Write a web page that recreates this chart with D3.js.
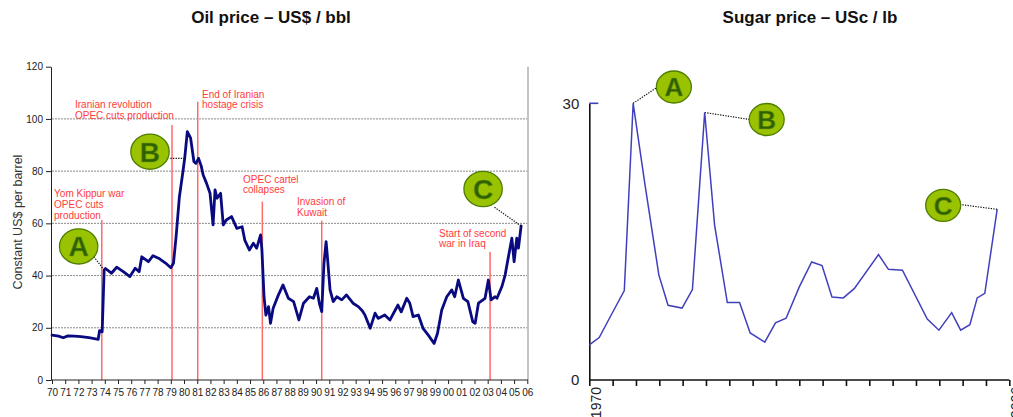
<!DOCTYPE html>
<html>
<head>
<meta charset="utf-8">
<script src="https://cdn.jsdelivr.net/npm/d3@7"></script>
<style>
  body { margin: 0; background: #fff; }
  svg { display: block; font-family: "Liberation Sans", Arial, sans-serif; }
</style>
</head>
<body>
<svg id="chart" width="1013" height="417"></svg>
<script>
// ---- Oil price, constant US$ per barrel (monthly-ish readings) ----
const oilYears = [
  1970.0, 1970.5, 1970.85, 1971.2, 1971.7, 1972.2, 1972.8, 1973.5, 1973.6, 1973.8,
  1973.95, 1974.05, 1974.5, 1974.9, 1975.4, 1975.9, 1976.3, 1976.6, 1976.8, 1977.3,
  1977.65, 1978.15, 1978.6, 1979.0, 1979.2, 1979.4, 1979.65, 1979.9, 1980.05, 1980.25,
  1980.5, 1980.75, 1980.9, 1981.1, 1981.3, 1981.45, 1981.7, 1981.97, 1982.2, 1982.35,
  1982.5, 1982.77, 1982.97, 1983.2, 1983.6, 1984.0, 1984.4, 1984.6, 1984.95, 1985.25,
  1985.5, 1985.8, 1985.9, 1986.06, 1986.2, 1986.4, 1986.55, 1986.75, 1987.15, 1987.5,
  1987.9, 1988.3, 1988.7, 1989.05, 1989.5, 1989.8, 1990.05, 1990.25, 1990.43, 1990.6,
  1990.76, 1990.86, 1991.06, 1991.3, 1991.57, 1991.95, 1992.3, 1992.8, 1993.2, 1993.5,
  1993.7, 1994.1, 1994.47, 1994.7, 1995.2, 1995.6, 1996.0, 1996.2, 1996.45, 1996.87,
  1997.1, 1997.35, 1997.75, 1998.1, 1998.5, 1998.94, 1999.2, 1999.52, 1999.9, 2000.28,
  2000.5, 2000.78, 2001.16, 2001.5, 2001.87, 2002.05, 2002.3, 2002.8, 2003.05, 2003.26,
  2003.56, 2003.7, 2004.07, 2004.32, 2004.57, 2004.83, 2005.0, 2005.2, 2005.33, 2005.53
];
const oilPrices = [
  17.2, 16.8, 16.2, 16.9, 16.8, 16.6, 16.2, 15.6, 18.9, 18.5,
  42.1, 42.7, 40.9, 43.2, 41.5, 39.6, 42.8, 41.5, 47.2, 45.3,
  47.6, 46.4, 44.8, 43.0, 44.7, 54.9, 70.2, 79.2, 84.9, 95.1,
  92.6, 83.6, 83.0, 84.9, 82.0, 78.5, 75.4, 71.5, 59.4, 72.8,
  69.6, 71.5, 59.4, 61.3, 62.6, 58.1, 58.7, 53.6, 49.8, 52.4,
  50.5, 55.6, 49.8, 31.9, 24.9, 28.1, 21.7, 27.5, 32.6, 36.4,
  31.3, 30.0, 23.0, 29.4, 31.9, 31.3, 35.1, 29.4, 26.2, 44.7,
  53.0, 47.2, 34.5, 30.0, 31.9, 30.7, 32.6, 29.4, 28.1, 26.5,
  24.9, 19.8, 25.6, 23.6, 24.9, 23.0, 26.8, 28.7, 26.1, 31.3,
  29.4, 24.3, 24.9, 19.8, 17.2, 14.0, 17.9, 26.8, 31.9, 34.5,
  31.9, 38.3, 31.3, 30.0, 22.3, 21.7, 29.4, 31.3, 38.3, 30.7,
  31.9, 31.3, 35.7, 40.2, 47.2, 54.3, 45.3, 54.3, 50.5, 59.0
];
const oilTickYears = d3.range(1970, 2007);
const oilTickValues = [0, 20, 40, 60, 80, 100, 120];

// Events marked on the oil chart
const eventYears = [1973.77, 1979.09, 1981.04, 1985.93, 1990.43, 2003.18];
const eventLabels = [
  ["Yom Kippur war", "OPEC cuts", "production"],
  ["Iranian revolution", "OPEC cuts production"],
  ["End of Iranian", "hostage crisis"],
  ["OPEC cartel", "collapses"],
  ["Invasion of", "Kuwait"],
  ["Start of second", "war in Iraq"]
];

// ---- Sugar price, US cents per lb ----
const sugarYears = [
  1970.0, 1970.85, 1971.9, 1973.0, 1973.76, 1974.76, 1975.96, 1976.75, 1977.95, 1978.84,
  1979.89, 1980.74, 1981.83, 1982.88, 1983.79, 1985.04, 1985.96, 1986.87, 1988.0, 1989.06,
  1989.95, 1990.8, 1991.77, 1992.71, 1994.79, 1995.64, 1996.84, 1998.97, 1999.97, 2001.06,
  2001.83, 2002.62, 2003.25, 2003.9, 2004.96
];
const sugarPrices = [
  3.8, 4.6, 7.1, 9.7, 30.0, 21.3, 11.4, 8.1, 7.8, 9.8,
  29.0, 16.8, 8.4, 8.4, 5.1, 4.1, 6.2, 6.7, 10.1, 12.8,
  12.4, 9.0, 8.9, 9.9, 13.6, 12.0, 11.9, 6.6, 5.4, 7.3,
  5.4, 6.0, 8.9, 9.4, 18.5
];
const sugarTickYears = d3.range(1970, 2007, 2);
const sugarTickValues = [0, 30];

// Lettered markers: index of the data point each one points at
const markerLetters = ["A", "B", "C"];
const oilMarkerAt = [10, 28, 119];
const sugarMarkerAt = [4, 10, 34];

const svg = d3.select("#chart");
const RED_TEXT = "#ff3b3b", RED_LINE = "#ff6a6a";
const GREEN_FILL = "#99c300", GREEN_STROKE = "#4f7d00", GREEN_TEXT = "#2f6000";

// ---------------- Titles ----------------
svg.append("text").attr("x", 271).attr("y", 23).attr("text-anchor", "middle")
  .attr("font-size", 17).attr("font-weight", "bold").attr("fill", "#111")
  .text("Oil price \u2013 US$ / bbl");
svg.append("text").attr("x", 810).attr("y", 23).attr("text-anchor", "middle")
  .attr("font-size", 17).attr("font-weight", "bold").attr("fill", "#111")
  .text("Sugar price \u2013 USc / lb");

// ---------------- Oil chart ----------------
const ox = d3.scaleLinear().domain([1970, 2006]).range([52, 527.3]);
const oy = d3.scaleLinear().domain([0, 120]).range([380, 66.7]);
const oil = svg.append("g");

// dotted gridlines
oil.append("g").selectAll("line")
  .data(oilTickValues.filter(v => v > 0 && v < 120))
  .join("line")
  .attr("x1", ox(1970)).attr("x2", 528)
  .attr("y1", d => oy(d)).attr("y2", d => oy(d))
  .attr("stroke", "#8a8a8a").attr("stroke-width", 1).attr("stroke-dasharray", "2,1");

// right frame
oil.append("line").attr("x1", 528).attr("x2", 528)
  .attr("y1", oy(120)).attr("y2", oy(0))
  .attr("stroke", "#c4c4c4").attr("stroke-width", 2);

// event lines and labels
const eventLayout = [
  { top: 61.3, dx: -47.7, dy: -23 },
  { top: 97.7, dx: -97,   dy: -17 },
  { top: 106.6, dx: 4.3,  dy: -4 },
  { top: 68.3, dx: -19.3, dy: -19 },
  { top: 61.0, dx: -24.7, dy: -15.5 },
  { top: 49.0, dx: -51,   dy: -15.5 }
];
eventYears.forEach((yr, i) => {
  const L = eventLayout[i];
  const x = ox(yr), yTop = oy(L.top);
  oil.append("line").attr("x1", x).attr("x2", x).attr("y1", yTop).attr("y2", oy(0))
    .attr("stroke", RED_LINE).attr("stroke-width", 1.5);
  const t = oil.append("text").attr("font-size", 10).attr("fill", RED_TEXT);
  eventLabels[i].forEach((s, k) => {
    t.append("tspan").attr("x", x + L.dx).attr("y", yTop + L.dy + k * 10.8).text(s);
  });
});

// axes
const oxAxis = d3.axisBottom(ox).tickValues(oilTickYears)
  .tickFormat(d => String(d % 100).padStart(2, "0"))
  .tickSize(4).tickSizeOuter(0).tickPadding(5);
const oxG = oil.append("g").attr("transform", `translate(0,${oy(0)})`).call(oxAxis);
oxG.select(".domain").attr("d", `M${ox(1970) - 1},0H528`).attr("stroke", "#222");
oxG.selectAll(".tick line").attr("stroke", "#222");
oxG.selectAll("text").attr("font-size", 10).attr("fill", "#222")
  .attr("font-family", "'Liberation Sans', Arial, sans-serif");

const oyAxis = d3.axisLeft(oy).tickValues(oilTickValues).tickSize(5).tickSizeOuter(0).tickPadding(3);
const oyG = oil.append("g").attr("transform", `translate(${ox(1970) - 1},0)`).call(oyAxis);
oyG.select(".domain").attr("stroke", "#222");
oyG.selectAll(".tick line").attr("stroke", "#222");
oyG.selectAll("text").attr("font-size", 10).attr("fill", "#222")
  .attr("font-family", "'Liberation Sans', Arial, sans-serif");

oil.append("text").attr("transform", "translate(22,222) rotate(-90)")
  .attr("text-anchor", "middle").attr("font-size", 12.5).attr("fill", "#333")
  .text("Constant US$ per barrel");

// price line
const oilLine = d3.line().x(i => ox(oilYears[i])).y(i => oy(oilPrices[i]));
oil.append("path").attr("d", oilLine(d3.range(oilYears.length)))
  .attr("fill", "none").attr("stroke", "#0a0a80").attr("stroke-width", 2.8)
  .attr("stroke-linejoin", "round").attr("stroke-linecap", "round");

// ---------------- Sugar chart ----------------
const sx = d3.scaleLinear().domain([1970, 2006]).range([589.3, 1009.3]);
const sy = d3.scaleLinear().domain([0, 30]).range([380, 103.3]);
const sugar = svg.append("g");
const SUGAR_BLUE = "#4040bf";

const sxAxis = d3.axisBottom(sx).tickValues(sugarTickYears)
  .tickFormat(d => (d === 1970 || d === 2006) ? String(d) : "")
  .tickSize(6).tickSizeOuter(0);
const sxG = sugar.append("g").attr("transform", `translate(0,${sy(0)})`).call(sxAxis);
sxG.select(".domain").attr("d", `M${sx(1970)},0H${sx(2006)}`).attr("stroke", "#111").attr("stroke-width", 1.6);
sxG.selectAll(".tick line").attr("stroke", "#111").attr("stroke-width", 1.6);
sxG.selectAll("text").attr("font-size", 14).attr("fill", "#222")
  .attr("font-family", "'Liberation Sans', Arial, sans-serif")
  .attr("transform", "rotate(-90)").attr("text-anchor", "end")
  .attr("x", -7).attr("y", 11).attr("dy", 0);

const syAxis = d3.axisLeft(sy).tickValues(sugarTickValues).tickSize(0).tickSizeOuter(0).tickPadding(10);
const syG = sugar.append("g").attr("transform", `translate(${sx(1970)},0)`).call(syAxis);
syG.select(".domain").attr("stroke", "#111").attr("stroke-width", 1.6);
syG.selectAll("text").attr("font-size", 15).attr("fill", "#222")
  .attr("font-family", "'Liberation Sans', Arial, sans-serif");

// short marker at the top of the value scale
sugar.append("line").attr("x1", sx(1970)).attr("x2", sx(1970) + 9)
  .attr("y1", sy(30)).attr("y2", sy(30)).attr("stroke", SUGAR_BLUE).attr("stroke-width", 1.6);

const sugarLine = d3.line().x(i => sx(sugarYears[i])).y(i => sy(sugarPrices[i]));
sugar.append("path").attr("d", sugarLine(d3.range(sugarYears.length)))
  .attr("fill", "none").attr("stroke", SUGAR_BLUE).attr("stroke-width", 1.5)
  .attr("stroke-linejoin", "miter");

// ---------------- Lettered markers ----------------
function drawMarker(g, ax, ay, lead, centre, rx, ry, fs, letter) {
  g.append("line").attr("x1", ax).attr("y1", ay)
    .attr("x2", ax + lead[0]).attr("y2", ay + lead[1])
    .attr("stroke", "#111").attr("stroke-width", 1.2).attr("stroke-dasharray", "1.3,1.3");
  const cx = ax + centre[0], cy = ay + centre[1];
  g.append("ellipse").attr("cx", cx).attr("cy", cy).attr("rx", rx).attr("ry", ry)
    .attr("fill", GREEN_FILL).attr("stroke", GREEN_STROKE).attr("stroke-width", 1.3);
  g.append("text").attr("x", cx).attr("y", cy + fs * 0.36).attr("text-anchor", "middle")
    .attr("font-size", fs).attr("font-weight", "bold").attr("fill", GREEN_TEXT)
    .attr("stroke", "#6f9a10").attr("stroke-width", 0.6)
    .text(letter);
}

const oilMarkerLayout = [
  { lead: [-12.3, -16], centre: [-25.5, -23.7] },
  { lead: [-15.7, 0],   centre: [-34.7, -6.7] },
  { lead: [-27, -19],   centre: [-38, -37] }
];
oilMarkerAt.forEach((idx, i) => {
  const L = oilMarkerLayout[i];
  drawMarker(oil, ox(oilYears[idx]), oy(oilPrices[idx]), L.lead, L.centre, 19.2, 17.6, 28, markerLetters[i]);
});

const sugarMarkerLayout = [
  { lead: [24, -16],  centre: [40.7, -16.3] },
  { lead: [45, 7],    centre: [62, 7] },
  { lead: [-38, -5],  centre: [-54, -4] }
];
sugarMarkerAt.forEach((idx, i) => {
  const L = sugarMarkerLayout[i];
  drawMarker(sugar, sx(sugarYears[idx]), sy(sugarPrices[idx]), L.lead, L.centre, 17.5, 16, 26, markerLetters[i]);
});
</script>
</body>
</html>
